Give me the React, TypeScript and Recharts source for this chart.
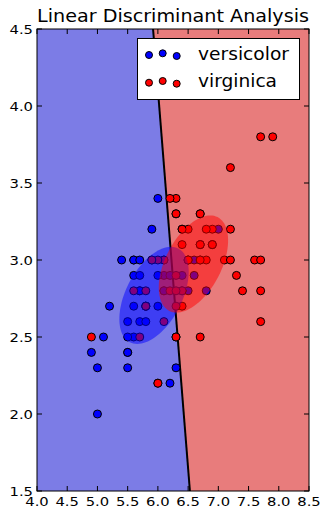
import React from 'react';
import { ScatterChart, Scatter, XAxis, YAxis, ReferenceArea, ReferenceLine, Legend } from 'recharts';

// Iris sepal measurements (versicolor / virginica)
const versicolorSepalLength = [7.0,6.4,6.9,5.5,6.5,5.7,6.3,4.9,6.6,5.2,5.0,5.9,6.0,6.1,5.6,6.7,5.6,5.8,6.2,5.6,5.9,6.1,6.3,6.1,6.4,6.6,6.8,6.7,6.0,5.7,5.5,5.5,5.8,6.0,5.4,6.0,6.7,6.3,5.6,5.5,5.5,6.1,5.8,5.0,5.6,5.7,5.7,6.2,5.1,5.7];
const versicolorSepalWidth = [3.2,3.2,3.1,2.3,2.8,2.8,3.3,2.4,2.9,2.7,2.0,3.0,2.2,2.9,2.9,3.1,3.0,2.7,2.2,2.5,3.2,2.8,2.5,2.8,2.9,3.0,2.8,3.0,2.9,2.6,2.4,2.4,2.7,2.7,3.0,3.4,3.1,2.3,3.0,2.5,2.6,3.0,2.6,2.3,2.7,3.0,2.9,2.9,2.5,2.8];
const virginicaSepalLength = [6.3,5.8,7.1,6.3,6.5,7.6,4.9,7.3,6.7,7.2,6.5,6.4,6.8,5.7,5.8,6.4,6.5,7.7,7.7,6.0,6.9,5.6,7.7,6.3,6.7,7.2,6.2,6.1,6.4,7.2,7.4,7.9,6.4,6.3,6.1,7.7,6.3,6.4,6.0,6.9,6.7,6.9,5.8,6.8,6.7,6.7,6.3,6.5,6.2,5.9];
const virginicaSepalWidth = [3.3,2.7,3.0,2.9,3.0,3.0,2.5,2.9,2.5,3.6,3.2,2.7,3.0,2.5,2.8,3.2,3.0,3.8,2.6,2.2,3.2,2.8,2.8,2.7,3.3,3.2,2.8,3.0,2.8,3.0,2.8,3.8,2.8,2.8,2.6,3.0,3.4,3.1,3.0,3.1,3.1,3.1,2.7,3.2,3.3,3.0,2.5,3.0,3.4,3.0];

const xTicks = [4.0, 4.5, 5.0, 5.5, 6.0, 6.5, 7.0, 7.5, 8.0, 8.5];
const yTicks = [1.5, 2.0, 2.5, 3.0, 3.5, 4.0, 4.5];
const xDomain: [number, number] = [4.0, 8.5];
const yDomain: [number, number] = [1.5, 4.5];

// decision boundary endpoints (sepal length at top / bottom of y domain)
const boundaryTopX = 5.92;
const boundaryBottomX = 6.53;

// class Gaussian ellipses (mean, semi-axes, angle in data units)
const versicolorMean = [5.936, 2.77];
const virginicaMean = [6.588, 2.974];
const ellipseSemiMajor = 0.599;
const ellipseSemiMinor = 0.264;
const ellipseAngleDeg = 18.7;

const seriesNames = ['versicolor', 'virginica'];
const title = 'Linear Discriminant Analysis';

const FONT = '"DejaVu Sans", Verdana, sans-serif';
const PLOT_TOP = 29;
const PLOT_BOTTOM = 491;
const PLOT_LEFT = 37;
const PLOT_RIGHT = 309;
const TICK_LEN = 5;

const BLUE_BG = '#7c7ce6';
const RED_BG = '#e87c7c';

const mapper = (p: any) => {
  const { x, y, width, height } = p;
  const fx = (v: number) => x + ((v - xDomain[0]) / (xDomain[1] - xDomain[0])) * width;
  const fy = (v: number) => y + ((yDomain[1] - v) / (yDomain[1] - yDomain[0])) * height;
  return { fx, fy };
};

const BackgroundShape = (p: any) => {
  const { fx, fy } = mapper(p);
  const left = [
    [xDomain[0], yDomain[1]], [boundaryTopX, yDomain[1]], [boundaryBottomX, yDomain[0]], [xDomain[0], yDomain[0]],
  ];
  const right = [
    [boundaryTopX, yDomain[1]], [xDomain[1], yDomain[1]], [xDomain[1], yDomain[0]], [boundaryBottomX, yDomain[0]],
  ];
  const pts = (arr: number[][]) => arr.map(([a, b]) => `${fx(a)},${fy(b)}`).join(' ');
  return (
    <g>
      <polygon points={pts(left)} fill={BLUE_BG} />
      <polygon points={pts(right)} fill={RED_BG} />
      <rect x={p.x} y={p.y} width={p.width} height={p.height} fill="none" stroke="#000" strokeWidth={1} />
      <text x={(p.x * 2 + p.width) / 2} y={22} textAnchor="middle" fontSize={18} fontFamily={FONT} fill="#000"
        textLength={272} lengthAdjust="spacingAndGlyphs">{title}</text>
    </g>
  );
};

const ellipsePath = (p: any, mean: number[]) => {
  const { fx, fy } = mapper(p);
  const th = (ellipseAngleDeg * Math.PI) / 180;
  const parts: string[] = [];
  for (let i = 0; i <= 96; i++) {
    const t = (i / 96) * Math.PI * 2;
    const a = ellipseSemiMajor * Math.cos(t);
    const b = ellipseSemiMinor * Math.sin(t);
    const dx = mean[0] + a * Math.cos(th) - b * Math.sin(th);
    const dy = mean[1] + a * Math.sin(th) + b * Math.cos(th);
    parts.push(`${i === 0 ? 'M' : 'L'}${fx(dx).toFixed(2)},${fy(dy).toFixed(2)}`);
  }
  return parts.join(' ') + 'Z';
};

const EllipseShape = (p: any) => (
  <g>
    <path d={ellipsePath(p, versicolorMean)} fill="#0000ff" fillOpacity={0.5} stroke="none" />
    <path d={ellipsePath(p, virginicaMean)} fill="#ff0000" fillOpacity={0.5} stroke="none" />
  </g>
);

const XTick = (props: any) => {
  const { x, payload } = props;
  return (
    <g>
      <line x1={x} x2={x} y1={PLOT_BOTTOM} y2={PLOT_BOTTOM - TICK_LEN} stroke="#000" strokeWidth={1} />
      <line x1={x} x2={x} y1={PLOT_TOP} y2={PLOT_TOP + TICK_LEN} stroke="#000" strokeWidth={1} />
      <text x={x} y={506} textAnchor="middle" fontSize={13} fontFamily={FONT} fill="#000"
        textLength={23.5} lengthAdjust="spacingAndGlyphs">
        {Number(payload.value).toFixed(1)}
      </text>
    </g>
  );
};

const YTick = (props: any) => {
  const { y, payload } = props;
  return (
    <g>
      <line x1={PLOT_LEFT} x2={PLOT_LEFT + TICK_LEN} y1={y} y2={y} stroke="#000" strokeWidth={1} />
      <line x1={PLOT_RIGHT} x2={PLOT_RIGHT - TICK_LEN} y1={y} y2={y} stroke="#000" strokeWidth={1} />
      <text x={33} y={y + 4.5} textAnchor="end" fontSize={13} fontFamily={FONT} fill="#000"
        textLength={23.5} lengthAdjust="spacingAndGlyphs">
        {Number(payload.value).toFixed(1)}
      </text>
    </g>
  );
};

const dot = (color: string) => (props: any) => (
  <circle cx={props.cx} cy={props.cy} r={4} fill={color} stroke="#000" strokeWidth={1} />
);

const LegendBox = () => (
  <div style={{ width: 163, height: 62, boxSizing: 'border-box', border: '1px solid #000', background: '#fff' }}>
    <svg width={161} height={60} style={{ display: 'block' }}>
      {[[11, 16], [24.7, 14.3], [38.7, 17]].map(([cx, cy], i) => (
        <circle key={'b' + i} cx={cx} cy={cy} r={3.5} fill="#0000ff" stroke="#000" strokeWidth={1} />
      ))}
      {[[11, 43.7], [24.7, 42], [38.7, 44.7]].map(([cx, cy], i) => (
        <circle key={'r' + i} cx={cx} cy={cy} r={3.5} fill="#ff0000" stroke="#000" strokeWidth={1} />
      ))}
      <text x={60} y={21} fontSize={17} fontFamily={FONT} fill="#000" textLength={91} lengthAdjust="spacingAndGlyphs">{seriesNames[0]}</text>
      <text x={60} y={48} fontSize={17} fontFamily={FONT} fill="#000" textLength={79} lengthAdjust="spacingAndGlyphs">{seriesNames[1]}</text>
    </svg>
  </div>
);

export default function App() {
  const versicolor = versicolorSepalLength.map((x, i) => ({ x, y: versicolorSepalWidth[i] }));
  const virginica = virginicaSepalLength.map((x, i) => ({ x, y: virginicaSepalWidth[i] }));
  return (
    <div style={{ position: 'absolute', left: 0, top: 0, width: 322, height: 509, background: '#fff' }}>
      <ScatterChart width={322} height={509} margin={{ top: PLOT_TOP, right: 322 - PLOT_RIGHT, bottom: 509 - PLOT_BOTTOM - 1, left: PLOT_LEFT - 1 }}>
        <XAxis type="number" dataKey="x" domain={xDomain} ticks={xTicks} interval={0} allowDataOverflow
          height={1} axisLine={false} tickLine={false} tickSize={0} tickMargin={0} tick={(p: any) => <XTick {...p} />} />
        <YAxis type="number" dataKey="y" domain={yDomain} ticks={yTicks} interval={0} allowDataOverflow
          width={1} axisLine={false} tickLine={false} tickSize={0} tickMargin={0} tick={(p: any) => <YTick {...p} />} />
        <ReferenceArea x1={xDomain[0]} x2={xDomain[1]} y1={yDomain[0]} y2={yDomain[1]} ifOverflow="visible"
          shape={(p: any) => <BackgroundShape {...p} />} zIndex={-60} />
        <ReferenceLine segment={[{ x: boundaryTopX, y: yDomain[1] }, { x: boundaryBottomX, y: yDomain[0] }]}
          stroke="#000" strokeWidth={2} ifOverflow="visible" zIndex={-50} />
        <Scatter name={seriesNames[0]} data={versicolor} shape={dot('#0000ff')} isAnimationActive={false} />
        <Scatter name={seriesNames[1]} data={virginica} shape={dot('#ff0000')} isAnimationActive={false} />
        <ReferenceArea x1={xDomain[0]} x2={xDomain[1]} y1={yDomain[0]} y2={yDomain[1]} ifOverflow="visible"
          shape={(p: any) => <EllipseShape {...p} />} zIndex={1500} />
        <Legend layout="horizontal" verticalAlign="middle" align="center"
          wrapperStyle={{ position: 'absolute', left: 137, top: 38, width: 163, height: 62 }}
          content={() => <LegendBox />} />
      </ScatterChart>
    </div>
  );
}
